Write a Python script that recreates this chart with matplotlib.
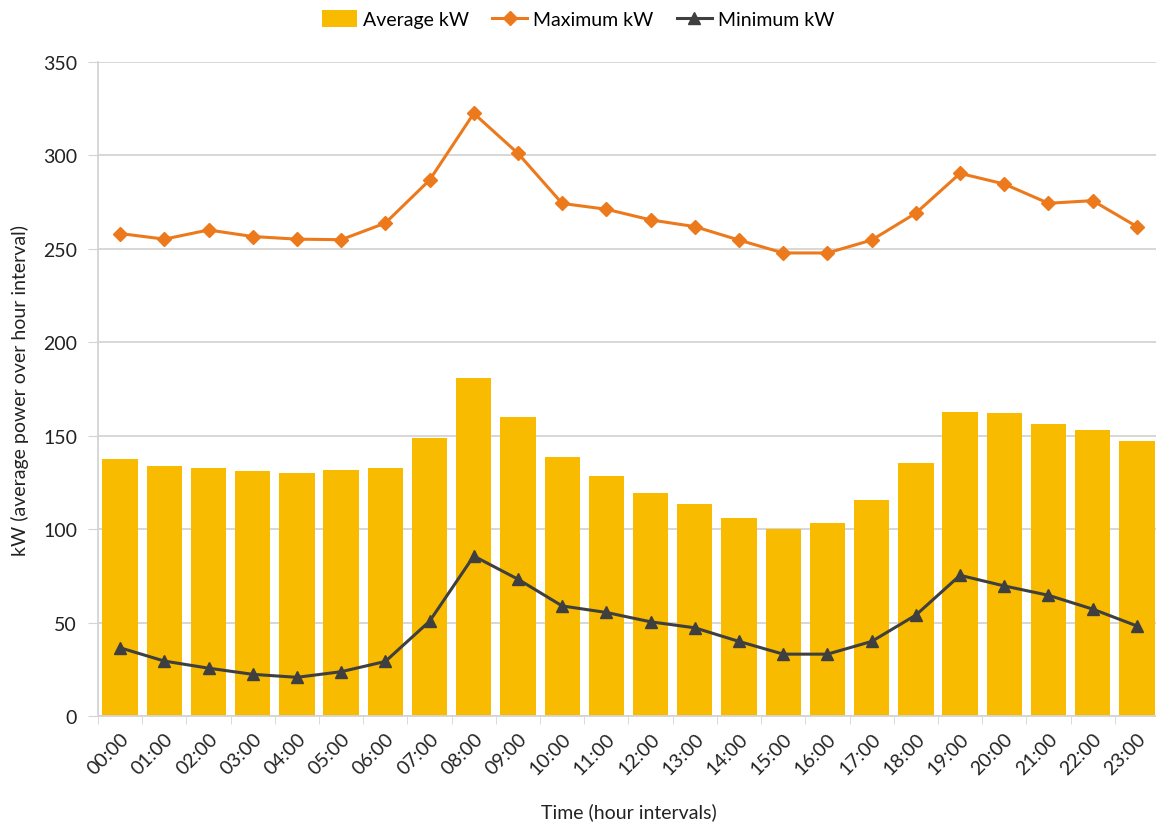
import matplotlib
matplotlib.use("Agg")
import matplotlib.pyplot as plt
import numpy as np

plt.rcParams["font.family"] = ["Lato", "DejaVu Sans"]

GOLD, ORANGE, DARK, GRID = "#F8BB00", "#EC7A1C", "#3F3F3F", "#D4D4D4"

hours = [f"{h:02d}:00" for h in range(24)]
avg_kw = [137.3, 133.7, 132.8, 131.0, 130.2, 131.4, 132.8, 148.9, 180.9, 160.1,
          138.5, 128.7, 119.5, 113.6, 105.9, 100.1, 103.5, 115.4, 135.3, 162.6,
          162.2, 156.4, 153.2, 147.4]
max_kw = [258.2, 255.2, 260.1, 256.6, 255.2, 254.9, 263.8, 286.8, 322.5, 301.1,
          274.3, 271.2, 265.5, 261.9, 254.7, 247.8, 247.8, 254.7, 269.1, 290.4,
          284.7, 274.4, 275.8, 261.9]
min_kw = [36.5, 29.4, 25.6, 22.3, 20.7, 23.7, 29.2, 50.7, 85.6, 73.2,
          58.9, 55.4, 50.4, 47.2, 39.9, 33.1, 33.1, 39.9, 54.0, 75.3,
          69.6, 64.6, 57.2, 48.2]

fig = plt.figure(figsize=(11.56, 8.29), dpi=100)
ax = fig.add_axes([98 / 1156, 112 / 829, 1061 / 1156, 654 / 829])

x = np.arange(len(hours))
bars = ax.bar(x, avg_kw, width=0.8, color=GOLD, label="Average kW", zorder=2)
l_max, = ax.plot(x, max_kw, color=ORANGE, lw=2.2, marker="D", ms=7,
                 label="Maximum kW", zorder=3)
l_min, = ax.plot(x, min_kw, color=DARK, lw=2.2, marker="^", ms=9,
                 label="Minimum kW", zorder=3)

ax.set_xlim(-0.5, len(hours) - 0.5)
ax.set_ylim(0, 350)
ax.set_yticks(range(0, 351, 50))
ax.yaxis.grid(True, color=GRID, lw=1.3, zorder=0)
ax.tick_params(axis="y", length=7, color=GRID, labelsize=14, labelcolor="#222222", pad=8)

ax.set_xticks(x)
ax.set_xticklabels(hours, rotation=45, ha="right", rotation_mode="anchor", fontsize=14,
                   color="#222222")
ax.set_xticks(np.arange(-0.5, len(hours), 1), minor=True)
ax.tick_params(axis="x", which="major", length=0, pad=10)
ax.tick_params(axis="x", which="minor", length=6, color=GRID)

for s in ["top", "right"]:
    ax.spines[s].set_visible(False)
for s in ["left", "bottom"]:
    ax.spines[s].set_color(GRID)
    ax.spines[s].set_linewidth(1.3)

ax.set_ylabel("kW (average power over hour interval)", fontsize=14, color="#222222", labelpad=10)
ax.set_xlabel("Time (hour intervals)", fontsize=14, color="#222222", labelpad=18)

fig.legend([bars, l_max, l_min], ["Average kW", "Maximum kW", "Minimum kW"],
           loc="upper center", bbox_to_anchor=(0.5, 1.008), ncol=3, frameon=False,
           fontsize=14, handlelength=1.8, handleheight=1.0, columnspacing=1.2,
           handletextpad=0.3)

fig.savefig("out.png", dpi=100)
